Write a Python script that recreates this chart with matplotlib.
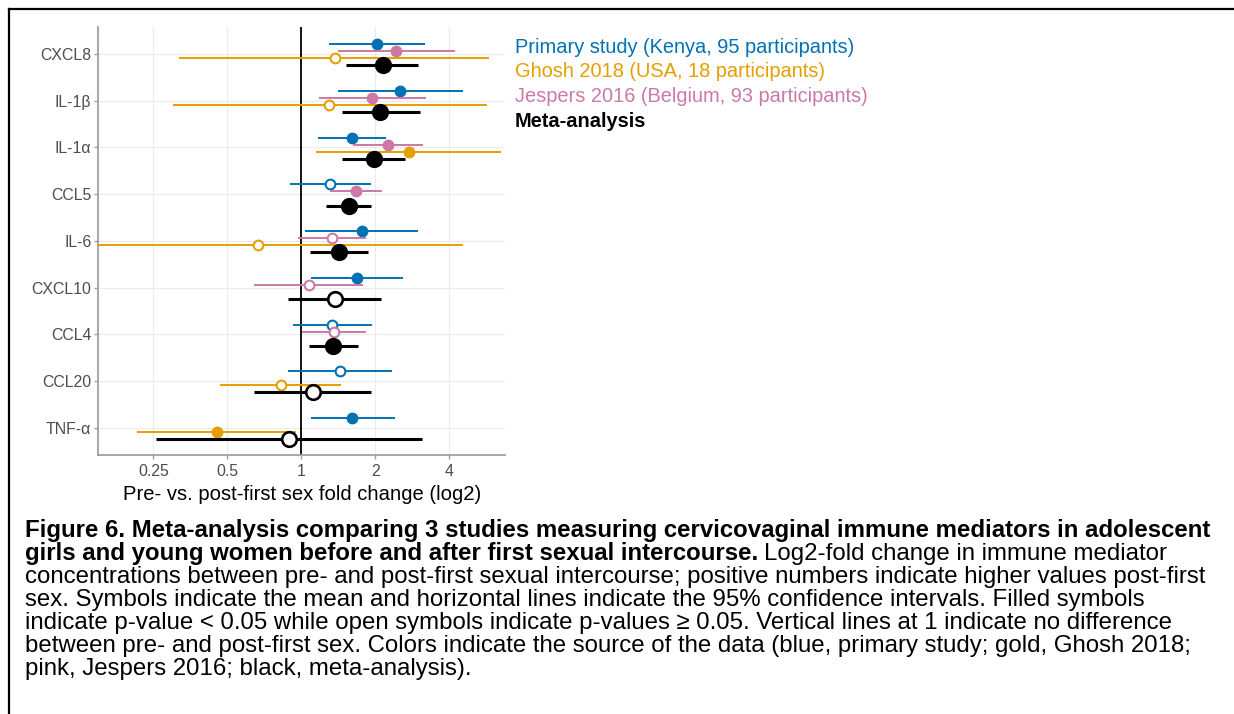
import numpy as np
import matplotlib
matplotlib.use("Agg")
import matplotlib.pyplot as plt
from matplotlib.lines import Line2D

plt.rcParams["font.family"] = ["Liberation Sans", "DejaVu Sans"]

# Immune mediators (top to bottom)
mediators = ["CXCL8", "IL-1β", "IL-1α", "CCL5", "IL-6", "CXCL10", "CCL4", "CCL20", "TNF-α"]
nan = np.nan

# log2 fold change, 95% CI, and significance (filled = p < 0.05)
prim_est = [1.02, 1.34, 0.68, 0.39, 0.82, 0.75, 0.42, 0.53, 0.69]
prim_lo = [0.37, 0.50, 0.22, -0.15, 0.05, 0.13, -0.11, -0.18, 0.13]
prim_hi = [1.67, 2.18, 1.14, 0.94, 1.58, 1.37, 0.95, 1.23, 1.26]
prim_sig = [1, 1, 1, 0, 1, 1, 0, 0, 1]

jesp_est = [1.28, 0.96, 1.17, 0.74, 0.42, 0.10, 0.44, nan, nan]
jesp_lo = [0.50, 0.24, 0.70, 0.39, -0.05, -0.64, 0.01, nan, nan]
jesp_hi = [2.08, 1.68, 1.64, 1.09, 0.88, 0.84, 0.87, nan, nan]
jesp_sig = [1, 1, 1, 1, 0, 0, 0, 0, 0]

ghosh_est = [0.45, 0.38, 1.46, nan, -0.59, nan, nan, -0.28, -1.14]
ghosh_lo = [-1.65, -1.74, 0.20, nan, -2.90, nan, nan, -1.10, -2.22]
ghosh_hi = [2.54, 2.51, 2.70, nan, 2.19, nan, nan, 0.54, -0.07]
ghosh_sig = [0, 0, 1, 0, 0, 0, 0, 0, 1]

meta_est = [1.10, 1.07, 0.98, 0.64, 0.51, 0.46, 0.43, 0.16, -0.16]
meta_lo = [0.60, 0.55, 0.55, 0.34, 0.12, -0.18, 0.10, -0.64, -1.96]
meta_hi = [1.58, 1.61, 1.40, 0.94, 0.90, 1.08, 0.76, 0.94, 1.63]
meta_sig = [1, 1, 1, 1, 1, 0, 1, 0, 0]

x_ticks = [-2, -1, 0, 1, 2]
x_ticklabels = ["0.25", "0.5", "1", "2", "4"]

legend_labels = ["Primary study (Kenya, 95 participants)",
                 "Ghosh 2018 (USA, 18 participants)",
                 "Jespers 2016 (Belgium, 93 participants)",
                 "Meta-analysis"]

blue, gold, pink = "#0072B2", "#E69F00", "#CC79A7"

W, H = 1234, 714
fig = plt.figure(figsize=(W / 100, H / 100), dpi=100)
fig.patch.set_facecolor("white")

def fx(px):
    return px / W

def fy(py):
    return 1 - py / H

ax_top, ax_bot = 26.7, 455.3
ax = fig.add_axes([fx(98.3), fy(ax_bot), fx(505 - 98.3), (ax_bot - ax_top) / H])

rows = np.arange(len(mediators))
ax.set_xlim(-2.743, 2.753)
ax.set_ylim(8.59, -0.585)

# grid
for t in x_ticks:
    if t != 0:
        ax.axvline(t, color="#EBEBEB", lw=0.8, zorder=0)
for r in rows:
    ax.axhline(r, color="#EBEBEB", lw=0.8, zorder=0)
ax.axvline(0, color="black", lw=1.3, zorder=1)

series = [
    (prim_est, prim_lo, prim_hi, prim_sig, blue, -0.21, 1.4, 7.0, 1.5),
    (jesp_est, jesp_lo, jesp_hi, jesp_sig, pink, -0.06, 1.4, 7.0, 1.5),
    (ghosh_est, ghosh_lo, ghosh_hi, ghosh_sig, gold, 0.09, 1.4, 7.0, 1.5),
    (meta_est, meta_lo, meta_hi, meta_sig, "black", 0.245, 2.2, 10.5, 1.9),
]

for k, (est, lo, hi, sig, col, off, lw, ms, mew) in enumerate(series):
    est = np.array(est); lo = np.array(lo); hi = np.array(hi); sig = np.array(sig)
    y = rows + off
    ok = ~np.isnan(est)
    ax.hlines(y[ok], lo[ok], hi[ok], color=col, lw=lw, zorder=2 + k)
    filled = ok & (sig == 1)
    opened = ok & (sig == 0)
    ax.plot(est[filled], y[filled], "o", color=col, ms=ms, mec=col, mew=mew,
            zorder=2.5 + k, clip_on=False)
    ax.plot(est[opened], y[opened], "o", mfc="white", mec=col, ms=ms, mew=mew,
            zorder=2.5 + k, clip_on=False)

ax.set_xticks(x_ticks)
ax.set_xticklabels(x_ticklabels)
ax.set_yticks(rows)
ax.set_yticklabels(mediators)
ax.tick_params(axis="both", colors="#A0A0A0", labelcolor="#4D4D4D",
               labelsize=11.4, length=3, width=1)
ax.tick_params(axis="x", pad=3)
ax.tick_params(axis="y", pad=2)
for s in ["top", "right"]:
    ax.spines[s].set_visible(False)
for s in ["left", "bottom"]:
    ax.spines[s].set_color("#A0A0A0")
    ax.spines[s].set_linewidth(1.3)
ax.set_xlabel("Pre- vs. post-first sex fold change (log2)", fontsize=14.6,
              color="black")
ax.xaxis.set_label_coords(0.5, (ax_bot - 500) / (ax_bot - ax_top))
ax.xaxis.label.set_va("baseline")

# legend as coloured text
leg_cols = [blue, gold, pink, "black"]
leg_y = [52.7, 77.3, 102.0, 126.7]
for lab, c, yy in zip(legend_labels, leg_cols, leg_y):
    fig.text(fx(515), fy(yy), lab, color=c, fontsize=14.4, va="baseline",
             ha="left", fontweight="bold" if lab == "Meta-analysis" else "normal")

# frame lines of the figure box
fig.add_artist(Line2D([fx(9), fx(9)], [fy(9), 0], color="black", lw=1.6,
                      transform=fig.transFigure))
fig.add_artist(Line2D([fx(9), 1], [fy(9), fy(9)], color="black", lw=1.6,
                      transform=fig.transFigure))

# caption
cap_x = fx(25)
cap_fs = 17.3
base = [537.5 + 22.9 * i for i in range(7)]
fig.text(cap_x, fy(base[0]),
         "Figure 6. Meta-analysis comparing 3 studies measuring cervicovaginal immune mediators in adolescent",
         fontsize=cap_fs, fontweight="bold", va="baseline")
b2 = fig.text(cap_x, fy(base[1]),
              "girls and young women before and after first sexual intercourse.",
              fontsize=cap_fs, fontweight="bold", va="baseline")
fig.add_artist(plt.Annotation("Log2-fold change in immune mediator", xy=(1, 0),
                              xycoords=b2, xytext=(4.5, 0), textcoords="offset points",
                              fontsize=cap_fs, va="bottom", ha="left"))
rest = [
    "concentrations between pre- and post-first sexual intercourse; positive numbers indicate higher values post-first",
    "sex. Symbols indicate the mean and horizontal lines indicate the 95% confidence intervals. Filled symbols",
    "indicate p-value < 0.05 while open symbols indicate p-values ≥ 0.05. Vertical lines at 1 indicate no difference",
    "between pre- and post-first sex. Colors indicate the source of the data (blue, primary study; gold, Ghosh 2018;",
    "pink, Jespers 2016; black, meta-analysis).",
]
for line, yy in zip(rest, base[2:]):
    fig.text(cap_x, fy(yy), line, fontsize=cap_fs, va="baseline")

fig.savefig("out.png", dpi=100)
